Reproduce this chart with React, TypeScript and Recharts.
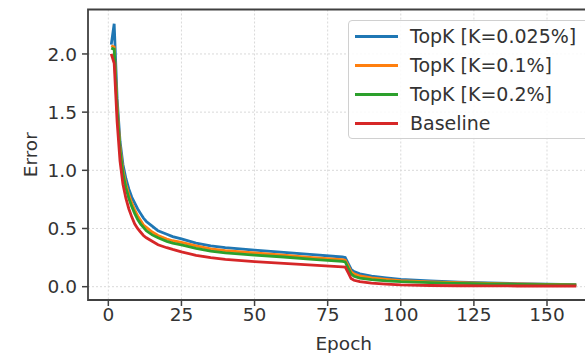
import React from "react";
import { LineChart, Line, XAxis, YAxis, CartesianGrid, ReferenceArea } from "recharts";

const epochs = [1, 2, 3, 4, 5, 6, 7, 8, 9, 10, 11, 12, 13, 15, 17, 20, 22, 25, 30, 35, 40, 50, 60, 70, 80, 81, 82, 83, 84, 86, 90, 95, 100, 110, 120, 130, 140, 150, 160];

const topk0025 = [2.08, 2.26, 1.62, 1.25, 1.05, 0.93, 0.84, 0.77, 0.72, 0.67, 0.63, 0.59, 0.56, 0.52, 0.48, 0.45, 0.43, 0.41, 0.375, 0.35, 0.335, 0.315, 0.295, 0.275, 0.255, 0.25, 0.2, 0.15, 0.13, 0.11, 0.09, 0.075, 0.062, 0.05, 0.04, 0.033, 0.027, 0.022, 0.018];
const topk01 = [2.07, 2.06, 1.55, 1.2, 1.0, 0.88, 0.79, 0.72, 0.66, 0.61, 0.57, 0.53, 0.51, 0.47, 0.44, 0.41, 0.395, 0.38, 0.35, 0.325, 0.31, 0.29, 0.27, 0.25, 0.232, 0.228, 0.18, 0.13, 0.11, 0.092, 0.075, 0.063, 0.052, 0.042, 0.034, 0.028, 0.023, 0.019, 0.016];
const topk02 = [2.05, 2.04, 1.52, 1.17, 0.97, 0.85, 0.76, 0.69, 0.63, 0.58, 0.54, 0.51, 0.48, 0.445, 0.42, 0.39, 0.375, 0.36, 0.33, 0.305, 0.29, 0.272, 0.255, 0.235, 0.217, 0.213, 0.16, 0.11, 0.09, 0.074, 0.06, 0.05, 0.043, 0.035, 0.029, 0.024, 0.02, 0.017, 0.015];
const baseline = [2.0, 1.92, 1.42, 1.08, 0.88, 0.76, 0.67, 0.6, 0.54, 0.5, 0.47, 0.44, 0.42, 0.39, 0.36, 0.335, 0.32, 0.3, 0.27, 0.25, 0.235, 0.215, 0.2, 0.185, 0.17, 0.168, 0.12, 0.07, 0.055, 0.043, 0.03, 0.022, 0.016, 0.01, 0.008, 0.007, 0.006, 0.006, 0.006];

const xTicks = [0, 25, 50, 75, 100, 125, 150];
const yTicks = [0, 0.5, 1.0, 1.5, 2.0];

const seriesNames = ["TopK [K=0.025%]", "TopK [K=0.1%]", "TopK [K=0.2%]", "Baseline"];
const seriesKeys = ["a", "b", "c", "d"];
const colors = ["#1f77b4", "#ff7f0e", "#2ca02c", "#d62728"];

const data = epochs.map((e, i) => ({
  epoch: e,
  a: topk0025[i],
  b: topk01[i],
  c: topk02[i],
  d: baseline[i],
}));

const FONT = "'DejaVu Sans', sans-serif";
const TXT = "#333";
const AX = "#404040";

export default function App() {
  return (
    <div style={{ position: "absolute", left: 0, top: 0, width: 585, height: 353, overflow: "hidden", background: "#fff" }}>
      <LineChart width={620} height={353} data={data} margin={{ top: 9.5, right: 20.5, bottom: 13, left: 0 }}>
        <CartesianGrid stroke="#d9d9d9" strokeDasharray="2 2" strokeWidth={1} verticalValues={xTicks} horizontalValues={yTicks} />
        <XAxis
          dataKey="epoch"
          type="number"
          domain={[-6.95, 167.95]}
          ticks={xTicks}
          height={40}
          tickSize={6}
          tickMargin={2}
          axisLine={false}
          tickLine={{ stroke: AX, strokeWidth: 1.5 }}
          tick={{ fill: TXT, fontSize: 18.5, fontFamily: FONT }}
          allowDataOverflow
          label={{ value: "Epoch", position: "insideBottom", offset: -10, fill: TXT, fontSize: 18.5, fontFamily: FONT }}
        />
        <YAxis
          type="number"
          domain={[-0.1144, 2.382]}
          ticks={yTicks}
          width={88}
          tickSize={6}
          tickMargin={5}
          axisLine={false}
          tickLine={{ stroke: AX, strokeWidth: 1.5 }}
          tickFormatter={(v: number) => v.toFixed(1)}
          tick={{ fill: TXT, fontSize: 18.5, fontFamily: FONT }}
          allowDataOverflow
          label={{ value: "Error", angle: -90, position: "center", dx: -14, fill: TXT, fontSize: 18.5, fontFamily: FONT }}
        />
        <ReferenceArea x1={-6.95} x2={167.95} y1={-0.1144} y2={2.382} fill="none" stroke={AX} strokeWidth={1.8} ifOverflow="visible" />
        {seriesKeys.map((k, i) => (
          <Line key={k} dataKey={k} type="linear" stroke={colors[i]} strokeWidth={2.8} dot={false} isAnimationActive={false} />
        ))}
      </LineChart>
      <div
        style={{
          position: "absolute",
          left: 348,
          top: 20,
          width: 245,
          height: 119,
          boxSizing: "border-box",
          border: "1px solid #d0d0d0",
          borderRadius: 4,
          background: "rgba(255,255,255,0.85)",
          fontFamily: FONT,
          fontSize: 19,
          color: TXT,
        }}
      >
        {seriesNames.map((n, i) => (
          <div key={n} style={{ position: "absolute", left: 0, top: 15 + i * 29 - 14, height: 28, display: "flex", alignItems: "center", whiteSpace: "nowrap" }}>
            <div style={{ marginLeft: 6, width: 43, height: 3, background: colors[i] }} />
            <span style={{ marginLeft: 12 }}>{n}</span>
          </div>
        ))}
      </div>
    </div>
  );
}
